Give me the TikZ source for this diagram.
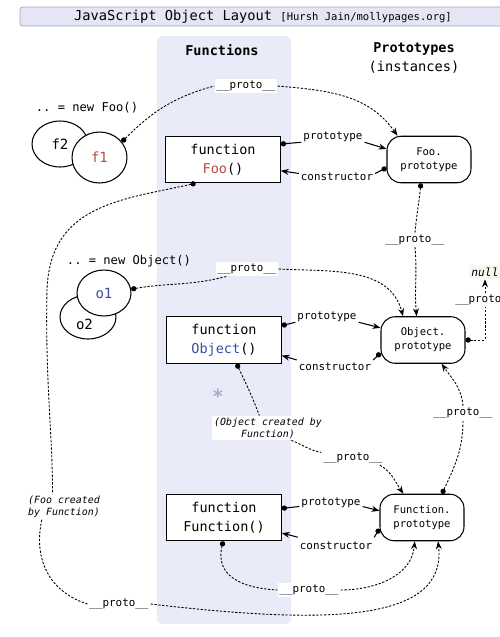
\documentclass[tikz,border=0pt]{standalone}
\usepackage{fontspec}
\setmonofont{DejaVu Sans Mono}
\usepackage{xcolor}
\usepackage{tikz}
\usetikzlibrary{arrows.meta,
positioning,
shapes.geometric}

\definecolor{colbg}{RGB}{233,235,249}
\definecolor{barbg}{RGB}{228,230,245}
\definecolor{barline}{RGB}{165,165,182}
\definecolor{foored}{RGB}{192,72,64}
\definecolor{objblue}{RGB}{58,78,165}
\definecolor{stargray}{RGB}{170,172,200}
\definecolor{nullbg}{RGB}{250,246,240}

\begin{document}
\begin{tikzpicture}[
x=0.02cm, y=-0.02cm,
>={Stealth[length=4.5pt,width=3.4pt]},
colbox/.style={
fill=colbg,
rounded corners=3pt,
minimum width=2.68cm,
minimum height=11.76cm
},
titlebar/.style={
draw=barline,
fill=barbg,
rounded corners=1.5pt,
minimum width=9.72cm,
minimum height=0.38cm,
inner sep=0pt,
font=\ttfamily\fontsize{7.8}{9}\selectfont
},
fnbox/.style={
draw,
line width=0.6pt,
fill=white,
align=center,
minimum width=2.29cm,
minimum height=0.93cm,
inner sep=0pt,
font=\ttfamily\fontsize{7.7}{10.6}\selectfont
},
protobox/.style={
draw,
line width=0.6pt,
fill=white,
rounded corners=8pt,
align=center,
minimum width=1.68cm,
minimum height=0.93cm,
inner sep=0pt,
font=\ttfamily\fontsize{6}{7.9}\selectfont
},
inst/.style={
draw,
ellipse,
line width=0.6pt,
fill=white,
inner sep=0pt,
font=\ttfamily\fontsize{8}{9}\selectfont
},
head/.style={inner sep=0pt, font=\ttfamily\bfseries\fontsize{7.7}{9}\selectfont},
code/.style={font=\ttfamily\fontsize{6.9}{8}\selectfont},
lbl/.style={fill=white, inner sep=1pt, font=\ttfamily\fontsize{6.2}{7}\selectfont},
note/.style={fill=white, inner sep=1pt, font=\ttfamily\itshape\fontsize{5.65}{6.7}\selectfont},
solidlink/.style={line width=0.6pt},
protolink/.style={line width=0.5pt, dash pattern=on 1.3pt off 0.9pt},
dotstart/.style={arrows={{Circle[length=3pt]}-}},
dotarrow/.style={arrows={{Circle[length=3pt]}->}}
]

\useasboundingbox (0,0) rectangle (500,637);

% Background
\node[colbox] (fcol) at (224,330) {};
\node[titlebar] (title) at (263,16.5) {JavaScript Object Layout {\fontsize{6}{7}\selectfont[Hursh Jain/mollypages.org]}};

% Headings
\node[head] (fhead) at (222,50) {Functions};
\node[head] (phead) at (414,49) {Prototypes};
\node[inner sep=0pt, font=\ttfamily\fontsize{7.8}{9}\selectfont, below=3pt of phead] (pinst) {(instances)};

% Instances
\node[code] (newfoo) at (87,108) {.. = new Foo()};
\node[inst, minimum width=1.12cm, minimum height=0.92cm] (f2) at (60,144) {f2};
\node[inst, minimum width=1.1cm, minimum height=1.02cm, text=foored] (f1) at (99.5,157.5) {f1};

\node[code] (newobj) at (129,261) {.. = new Object()};
\node[inst, minimum width=1.12cm, minimum height=0.88cm,
label={[font=\ttfamily\fontsize{8}{9}\selectfont, xshift=-2pt, yshift=-4pt]center:o2}] (o2) at (88,317) {};
\node[inst, minimum width=1.08cm, minimum height=0.92cm, text=objblue] (o1) at (104,293) {o1};

% Functions
\node[fnbox] (foo) at (223,159.5) {function\\\textcolor{foored}{Foo}()};
\node[fnbox] (obj) at (224,340) {function\\\textcolor{objblue}{Object}()};
\node[fnbox] (fn) at (224,517.5) {function\\Function()};

% Prototypes
\node[protobox] (fooP) at (429,159.5) {Foo.\\prototype};
\node[protobox] (objP) at (423,340) {Object.\\prototype};
\node[protobox] (fnP) at (422,517.5) {Function.\\prototype};

\node[inner sep=1.5pt, fill=nullbg, font=\ttfamily\itshape\fontsize{6.4}{7}\selectfont] (null) at (485,272) {null};
\node[text=stargray, font=\ttfamily\bfseries\fontsize{11}{11}\selectfont] (star) at (218,396) {*};

% Labels
\node[lbl] (lpFoo) at (333,137) {prototype};
\node[lbl] (lcFoo) at (337,177) {constructor};
\node[lbl] (lpObj) at (327,317) {prototype};
\node[lbl] (lcObj) at (335,367) {constructor};
\node[lbl] (lpFn) at (331,503) {prototype};
\node[lbl] (lcFn) at (336,546) {constructor};

\node[lbl] (pA) at (246,86) {\_\_proto\_\_};
\node[lbl] (pB) at (119,604) {\_\_proto\_\_};
\node[lbl] (pC) at (415,240) {\_\_proto\_\_};
\node[lbl] (pD) at (247,269) {\_\_proto\_\_};
\node[lbl] (pF) at (353,458) {\_\_proto\_\_};
\node[lbl] (pG) at (463,413) {\_\_proto\_\_};
\node[lbl] (pH) at (309,590) {\_\_proto\_\_};

\node[note, align=left] (fooby) at (64,507) {(Foo created\\by Function)};
\node[note, align=center] (objby) at (268,428) {(Object created by\\Function)};

% prototype / constructor
\draw[solidlink, dotstart] (foo.15) -- ([yshift=-3pt]lpFoo.west);
\draw[solidlink, ->] ([yshift=-3pt]lpFoo.east) -- (fooP.166);
\draw[solidlink, dotstart] (fooP.191) -- ([yshift=2pt]lcFoo.east);
\draw[solidlink, ->] ([yshift=2pt]lcFoo.west) -- (foo.-11);

\draw[solidlink, dotstart] (obj.14) -- ([yshift=-3pt]lpObj.west);
\draw[solidlink, ->] ([yshift=-3pt]lpObj.east) -- (objP.164);
\draw[solidlink, dotstart] (objP.197) -- ([yshift=4pt]lcObj.east);
\draw[solidlink, ->] ([yshift=4pt]lcObj.west) -- (obj.-15);

\draw[solidlink, dotstart] (fn.9) -- ([yshift=-2pt]lpFn.west);
\draw[solidlink, ->] ([yshift=-2pt]lpFn.east) -- (fnP.171);
\draw[solidlink, dotstart] (fnP.195) -- ([yshift=5pt]lcFn.east);
\draw[solidlink, ->] ([yshift=5pt]lcFn.west) -- (fn.-15);

% __proto__ chains
\draw[protolink, dotstart] (f1.35) to[out=45,in=195] (pA.west);
\draw[protolink, ->] (pA.east) to[out=-5,in=125] (fooP.143);

\draw[protolink, dotstart] (foo.221) .. controls (120,200) and (50,205) .. (47,290)
 .. controls (45,380) and (53,440) .. (fooby.132);
\draw[protolink] (fooby.210) .. controls (33,560) and (50,592) .. (pB.west);
\draw[protolink, ->] (pB.east) .. controls (330,625) and (447,622) .. (fnP.304);

\draw[protolink, dotstart] (fooP.251) to[out=265,in=85] (pC.north);
\draw[protolink, ->] (pC.south) to[out=275,in=95] (objP.105);

\draw[protolink, dotstart] (o1.8) to[out=10,in=195] (pD.200);
\draw[protolink, ->] (pD.east) to[out=-3,in=105] (objP.130);

\draw[protolink, dotarrow] (objP.east) -| node[lbl, pos=0.83] (pE) {\_\_proto\_\_} (null.south);

\draw[protolink, dotstart] (obj.298) to[out=-65,in=110] (objby.125);
\draw[protolink] (objby.-28) to[out=-20,in=170] (pF.170);
\draw[protolink, ->] (pF.-15) to[out=-30,in=125] (fnP.128);

\draw[protolink, dotstart] (fnP.50) to[out=65,in=270] (pG.south);
\draw[protolink, ->] (pG.north) to[out=95,in=-55] (objP.308);

\draw[protolink, dotstart] (fn.268) .. controls (215,575) and (240,588) .. (pH.west);
\draw[protolink, ->] (pH.east) to[out=0,in=265] (fnP.253);

\end{tikzpicture}
\end{document}
